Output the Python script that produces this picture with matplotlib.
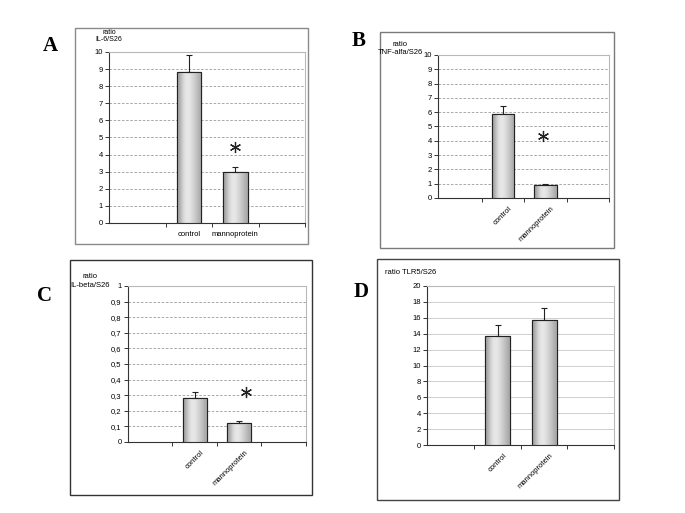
import numpy as np
import matplotlib.pyplot as plt
from matplotlib.patches import Rectangle
from matplotlib.ticker import FuncFormatter

plt.rcParams['font.family'] = ['Liberation Sans', 'DejaVu Sans']

W, H = 685, 513

groups = ['control', 'mannoprotein']

# panel A - IL-6
il6_mean = [8.85, 3.0]
il6_err = [0.95, 0.25]
# panel B - TNF-alfa
tnf_mean = [5.9, 0.9]
tnf_err = [0.55, 0.07]
# panel C - IL-beta
ilb_mean = [0.285, 0.12]
ilb_err = [0.035, 0.015]
# panel D - TLR5
tlr5_mean = [13.7, 15.75]
tlr5_err = [1.4, 1.45]

# asterisk (x position, height) per panel, None = no mark
sig_A = (1.0, 4.45)
sig_B = (0.95, 4.35)
sig_C = (1.15, 0.32)

# name, means, errs, ylim, ystep, ylabel, sig, rotate labels, comma decimals, dashed grid
panels = [
    ('A', il6_mean, il6_err, 10, 1, 'ratio\nIL-6/S26', sig_A, False, False, True),
    ('B', tnf_mean, tnf_err, 10, 1, 'ratio\nTNF-alfa/S26', sig_B, True, False, True),
    ('C', ilb_mean, ilb_err, 1, 0.1, 'ratio\nIL-beta/S26', sig_C, True, True, True),
    ('D', tlr5_mean, tlr5_err, 20, 2, 'ratio TLR5/S26', None, True, False, False),
]

# pixel layout: axes (left, top, right, bottom), box, letter position, x left limit
axes_px = {'A': (109, 52, 305, 223), 'B': (438, 55, 609, 198),
           'C': (128, 286, 306, 442), 'D': (427, 286, 614, 445)}
box_px = {'A': (75, 28, 308, 244, '#8a8a8a'), 'B': (380, 32, 614, 248, '#7a7a7a'),
          'C': (70, 260, 312, 495, '#333333'), 'D': (377, 259, 619, 500, '#444444')}
letter_px = {'A': (50, 46), 'B': (359, 41), 'C': (44, 296), 'D': (361, 292)}
xleft = {'A': -1.72, 'B': -1.53, 'C': -1.5, 'D': -1.52}

fig = plt.figure(figsize=(W / 100, H / 100), dpi=100)

grad = np.array([0.62, 0.72, 0.84, 0.9, 0.91, 0.88, 0.83, 0.78, 0.72, 0.66]).reshape(1, -1)


def px_rect(l, t, r, b):
    return [l / W, 1 - b / H, (r - l) / W, (b - t) / H]


for name, means, errs, ymax, ystep, ylab, sig, rot, comma, dashed in panels:
    l, t, r, b, ec = box_px[name]
    fig.add_artist(Rectangle((l / W, 1 - b / H), (r - l) / W, (b - t) / H,
                             transform=fig.transFigure, fill=False, ec=ec, lw=1.0))
    lx, ly = letter_px[name]
    fig.text(lx / W, 1 - ly / H, name, family='Liberation Serif', weight='bold',
             fontsize=15, ha='center', va='center')

    ax = fig.add_axes(px_rect(*axes_px[name]))
    x = np.arange(len(groups))
    bars = ax.bar(x, means, width=0.53, color='#cfcfcf', edgecolor='#222222',
                  linewidth=0.8, zorder=3)
    for bar in bars:
        bx, by = bar.get_x(), bar.get_y()
        im = ax.imshow(grad, cmap='gray', vmin=0, vmax=1, aspect='auto',
                       extent=(bx, bx + bar.get_width(), by, by + bar.get_height()),
                       zorder=3.5, interpolation='bicubic')
        im.set_clip_path(bar)
        ax.add_patch(Rectangle((bx, by), bar.get_width(), bar.get_height(),
                               fill=False, ec='#222222', lw=0.8, zorder=4))
    ax.errorbar(x, means, yerr=[np.zeros(len(errs)), errs], fmt='none',
                ecolor='#222222', elinewidth=0.8, capsize=2.2, capthick=0.8, zorder=5)

    if sig is not None:
        ax.plot(sig[0], sig[1], marker=(6, 2, 0), ms=8, mew=0.9, color='#222222',
                zorder=6)

    ax.set_xlim(xleft[name], 2.5)
    ax.set_ylim(0, ymax)
    ax.set_yticks(np.arange(0, ymax + ystep / 2, ystep))
    if comma:
        ax.yaxis.set_major_formatter(FuncFormatter(
            lambda v, p: '0' if abs(v) < 1e-9 else ('1' if abs(v - 1) < 1e-9 else f'{v:.1f}'.replace('.', ','))))
    else:
        ax.yaxis.set_major_formatter(FuncFormatter(lambda v, p: f'{v:.0f}'))
    if dashed:
        ax.yaxis.grid(True, color='#9a9a9a', lw=0.6, ls=(0, (3, 2)))
    else:
        ax.yaxis.grid(True, color='#c8c8c8', lw=0.6)
    ax.set_axisbelow(True)

    ax.set_xticks([-0.5, 0.5, 1.5, 2.5])
    ax.set_xticklabels([])
    ax.tick_params(axis='both', length=3, width=0.7, color='#333333',
                   labelsize=5.5, pad=1.5)
    for s in ['left', 'bottom']:
        ax.spines[s].set_color('#333333')
        ax.spines[s].set_linewidth(0.8)
    for s in ['top', 'right']:
        ax.spines[s].set_color('#b8b8b8')
        ax.spines[s].set_linewidth(0.8)

    for xi, g in zip(x, groups):
        if rot:
            ax.annotate(g, (xi, 0), xytext=(4, -5), textcoords='offset points',
                        rotation=45, ha='right', va='top', rotation_mode='anchor',
                        fontsize=5.5, annotation_clip=False)
        else:
            ax.annotate(g, (xi, 0), xytext=(0, -6), textcoords='offset points',
                        ha='center', va='top', fontsize=5.5, annotation_clip=False)

    al, at, ar, ab = axes_px[name]
    if name == 'A':
        fig.text(al / W, 1 - 36 / H, ylab, fontsize=5, ha='center', va='center',
                 linespacing=1.1)
    elif name == 'B':
        fig.text(423 / W, 1 - 48 / H, ylab, fontsize=5.5, ha='right', va='center',
                 multialignment='center', linespacing=1.2)
    elif name == 'C':
        fig.text(110 / W, 1 - 281 / H, ylab, fontsize=5.5, ha='right', va='center',
                 multialignment='center', linespacing=1.3)
    else:
        fig.text(385 / W, 1 - 272 / H, ylab, fontsize=5.5, ha='left', va='center')

fig.savefig('out.png', dpi=100)
